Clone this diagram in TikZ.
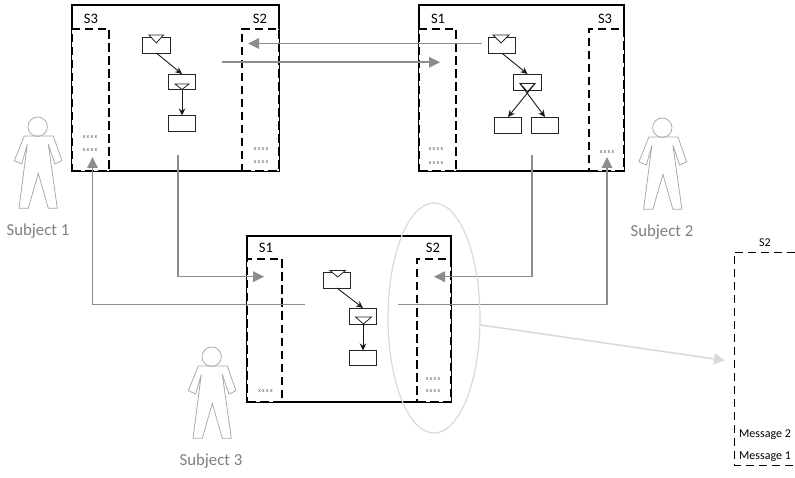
\documentclass[tikz,border=0pt]{standalone}
\usepackage{fontspec}
\setmainfont{Carlito}
\usetikzlibrary{arrows.meta,shapes.geometric}
\definecolor{gline}{HTML}{8C8C8C}
\definecolor{gtext}{HTML}{7F7F7F}
\definecolor{gperson}{HTML}{A6A6A6}
\definecolor{gell}{HTML}{D9D9D9}
\tikzset{
  frame/.style={draw=black,line width=1.3pt,inner sep=0pt,outer sep=0pt},
  lane/.style={draw=black,fill=white,line width=1.1pt,dash pattern=on 8.5pt off 4.5pt,inner sep=0pt,outer sep=0pt},
  small/.style={draw=black!85,fill=white,line width=0.9pt,minimum width=27.5pt,minimum height=15.5pt,inner sep=0pt,outer sep=0pt},
  tri/.style={draw=black!85,fill=white,line width=0.8pt,line join=miter},
  flow/.style={draw=black!90,line width=0.9pt,-{Stealth[length=7pt,width=6.5pt]}},
  msg/.style={draw=gline,line width=1.6pt,-{Triangle[length=11pt,width=10.5pt]}},
  zoomline/.style={draw=gell,line width=1.5pt,-{Triangle[length=11pt,width=11pt]}},
  lab/.style={font=\fontsize{14.5}{16}\selectfont,text=black,inner sep=0pt},
  tiny/.style={font=\fontsize{6}{7}\addfontfeatures{LetterSpace=22}\selectfont,text=black!65,inner sep=0pt},
  subj/.style={font=\fontsize{16.8}{18}\selectfont,text=gtext,inner sep=0pt},
  mes/.style={font=\fontsize{12}{14}\selectfont,text=black,inner sep=0pt,anchor=west},
  person/.pic={
    \draw[gperson,line width=0.75pt] (0,0) circle[radius=9.7];
    \draw[gperson,line width=0.75pt,line join=miter] (-13.4,9.3)--(15.6,9.3)--(24.3,34)--(17.3,37.3)--(10.6,17.6)--(19.6,81.6)--(10.6,81.6)--(0.6,46.6)--(-9.4,81.6)--(-18.7,81.6)--(-10.4,17.6)--(-16,37.3)--(-23.4,34)--cycle;
  }
}
\begin{document}
\begin{tikzpicture}[x=1pt,y=-1pt]
\useasboundingbox (0,0) rectangle (795,478);
% frames
\node[frame,minimum width=207pt,minimum height=166pt] (fa) at (175.5,88) {};
\node[frame,minimum width=205pt,minimum height=166pt] (fb) at (521.5,88) {};
\node[frame,minimum width=204pt,minimum height=166pt] (fc) at (349,319) {};
% lanes
\node[lane,minimum width=37pt,minimum height=142pt] (as3) at (90.5,100) {};
\node[lane,minimum width=37pt,minimum height=142pt] (as2) at (260.5,100) {};
\node[lane,minimum width=37pt,minimum height=142pt] (bs1) at (437.5,100) {};
\node[lane,minimum width=35pt,minimum height=142pt] (bs3) at (606.5,100) {};
\node[lane,minimum width=35pt,minimum height=143pt] (cs1) at (264.5,330.5) {};
\node[lane,minimum width=34pt,minimum height=143pt] (cs2) at (434,330.5) {};
% lane labels
\node[lab] at (91,18.5) {S3};
\node[lab] at (260,18.5) {S2};
\node[lab] at (438,18.5) {S1};
\node[lab] at (605,18.5) {S3};
\node[lab] at (266,248) {S1};
\node[lab] at (433,248) {S2};
% tiny message labels
\node[tiny] at (90,137.5) {xxxx};
\node[tiny] at (90,150.5) {xxxx};
\node[tiny] at (261,149.5) {xxxx};
\node[tiny] at (261,162.5) {xxxx};
\node[tiny] at (436,149.5) {xxxx};
\node[tiny] at (436,163) {xxxx};
\node[tiny] at (607,152.5) {xxxx};
\node[tiny] at (265.5,391.5) {xxxx};
\node[tiny] at (433,379) {xxxx};
\node[tiny] at (433,391.5) {xxxx};
% process A
\node[small,minimum height=16pt] (a1) at (156.3,45) {};
\node[small,minimum height=15pt] (a2) at (182,81.5) {};
\node[small,minimum height=16pt] (a3) at (182,123.5) {};
\draw[tri] (149,35)--(163.5,35)--(156.3,43)--cycle;
\draw[flow] (a1.south)--(a2.north);
\draw[flow] (a2.south)--(a3.north);
\draw[tri] (175,84)--(189,84)--(182,89.5)--cycle;
% process B
\node[small] (b1) at (502,45.5) {};
\node[small,minimum height=16pt] (b2) at (527.5,82) {};
\node[small,minimum height=16pt] (b3) at (508,125) {};
\node[small,minimum height=16pt] (b4) at (545,125) {};
\draw[tri] (493,35)--(509,35)--(501,43)--cycle;
\draw[flow] (b1.south)--(b2.north);
\draw[tri] (520,83.5)--(535,83.5)--(527.5,91.5)--cycle;
\coordinate (bl) at (535,83.5);
\coordinate (br) at (520,83.5);
\draw[flow] (bl)--(b3.north);
\draw[flow] (br)--(b4.north);
% process C
\node[small,minimum height=16pt] (c1) at (337,280) {};
\node[small,minimum height=16pt] (c2) at (363,316) {};
\node[small,minimum height=15pt] (c3) at (363,358) {};
\draw[tri] (330,270.5)--(345.5,270.5)--(337.7,277)--cycle;
\draw[flow] (c1.south)--(c2.north);
\draw[flow] (c2.south)--(c3.north);
\draw[tri] (355.5,317)--(371.5,317)--(363.5,324)--cycle;
% message connectors
\coordinate (m1s) at (481.5,43.5);
\coordinate (m1e) at (248,43.5);
\coordinate (m2s) at (222,62.3);
\coordinate (m2e) at (440,62.3);
\coordinate (m3s) at (178,155);
\coordinate (m3k) at (178,276.7);
\coordinate (m3e) at (264,276.7);
\coordinate (m4s) at (305,304.5);
\coordinate (m4k) at (92.5,304.5);
\coordinate (m4e) at (92.5,157);
\coordinate (m5s) at (532,155);
\coordinate (m5k) at (532,276.7);
\coordinate (m5e) at (434,276.7);
\coordinate (m6s) at (398,304.5);
\coordinate (m6k) at (607,304.5);
\coordinate (m6e) at (607,157);
\draw[msg] (m1s)--(m1e);
\draw[msg] (m2s)--(m2e);
\draw[msg] (m3s)--(m3k)--(m3e);
\draw[msg] (m4s)--(m4k)--(m4e);
\draw[msg] (m5s)--(m5k)--(m5e);
\draw[msg] (m6s)--(m6k)--(m6e);
% zoom
\node[draw=gell,line width=1.2pt,ellipse,minimum width=92pt,minimum height=230pt,inner sep=0pt,outer sep=0pt] (ell) at (434,318) {};
% detail lane
\coordinate (d1) at (795,252);
\coordinate (d2) at (734,252);
\coordinate (d3) at (734,465);
\coordinate (d4) at (793,465);
\draw[draw=black,line width=0.9pt,dash pattern=on 8pt off 5pt] (d1)--(d2)--(d3)--(d4);
\coordinate (ze) at (725,360.5);
\coordinate (zs) at (481,325);
\draw[zoomline] (zs)--(ze);
\node[lab,font=\fontsize{12}{14}\selectfont] at (765,243) {S2};
\node[mes] at (739,434.5) {Message 2};
\node[mes] at (739,456.5) {Message 1};
% subjects
\pic at (37.7,126.7) {person};
\pic at (662.3,127.7) {person};
\pic at (211.7,356.7) {person};
\node[subj] at (38,231) {Subject 1};
\node[subj] at (662,232.5) {Subject 2};
\node[subj] at (211,461) {Subject 3};
\end{tikzpicture}
\end{document}
